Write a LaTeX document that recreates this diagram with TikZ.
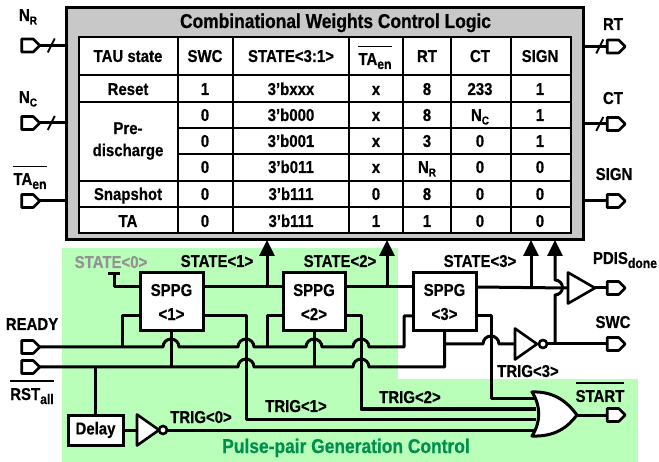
\documentclass[tikz,border=0pt]{standalone}
\usepackage{fontspec}
\setmainfont[FakeStretch=0.87, FakeBold=0.5]{Liberation Sans}
\usetikzlibrary{shapes.geometric, shapes.symbols, arrows.meta}
\definecolor{panelgreen}{HTML}{B9FFB9}
\definecolor{titlegreen}{HTML}{008F4C}
\definecolor{logicgray}{HTML}{C8C8C8}
\newcommand{\subtext}[1]{\raisebox{-3.5pt}{\fontsize{11.5}{12}\selectfont #1}}
\newcommand{\sublong}[1]{\raisebox{-4pt}{\fontsize{14}{14}\selectfont #1}}
\newcommand{\barred}[1]{\vbox{\hrule height 1.6pt \kern 6pt \hbox{#1}}}
\newcommand{\hop}{arc[start angle=180, end angle=0, radius=8pt]}

\begin{document}
\begin{tikzpicture}
[x=1pt, y=1pt,
every node/.style={inner sep=0pt, outer sep=0pt, font=\bfseries\fontsize{17.2}{18}\selectfont},
wire/.style={line width=3pt, line join=round, color=black},
gridline/.style={line width=2.8pt, color=black},
slash/.style={line width=1.8pt, color=black},
upwire/.style={wire, -{Triangle[length=16pt, width=15pt]}},
lbl/.style={anchor=base, align=center},
cell/.style={anchor=base},
port/.style={signal, signal to=east, signal from=nowhere, signal pointer angle=90, minimum width=18pt, minimum height=13pt, draw=black, fill=white, line width=2.6pt, line join=round},
blockbox/.style={rectangle, draw=black, fill=white, line width=3pt, align=center},
inverter/.style={isosceles triangle, isosceles triangle stretches, shape border rotate=0, anchor=lower side, minimum height=22pt, minimum width=31pt, draw=black, fill=white, line width=2.6pt, line join=round},
bubble/.style={circle, minimum size=8pt, draw=black, fill=white, line width=2.6pt}]
\useasboundingbox (0,0) rectangle (659,-462);
% green panels
\fill [panelgreen] (62,-248) rectangle (398,-379);
\fill [panelgreen] (62,-379) rectangle (638,-462);
% logic block and table
\node (logic) [rectangle, draw=black, fill=logicgray, line width=3pt, minimum width=517pt, minimum height=232pt] at (325,-124) {};
\node (title) [lbl, font=\bfseries\fontsize{20}{20}\selectfont] at (335.5,-28) {Combinational Weights Control Logic};
\node (tab) [rectangle, draw=black, fill=white, line width=2.8pt, minimum width=492pt, minimum height=196pt] at (325,-135) {};
\draw [gridline] (178,-37) -- (178,-233);
\draw [gridline] (233,-37) -- (233,-233);
\draw [gridline] (349,-37) -- (349,-233);
\draw [gridline] (403,-37) -- (403,-233);
\draw [gridline] (451,-37) -- (451,-233);
\draw [gridline] (511,-37) -- (511,-233);
\draw [gridline] (79,-75) -- (571,-75);
\draw [gridline] (79,-102) -- (571,-102);
\draw [gridline] (178,-128) -- (571,-128);
\draw [gridline] (178,-154) -- (571,-154);
\draw [gridline] (79,-181) -- (571,-181);
\draw [gridline] (79,-207) -- (571,-207);
% table header
\node (h1) [cell] at (128,-62) {TAU state};
\node (h2) [cell] at (205,-62) {SWC};
\node (h3) [cell] at (291,-62) {STATE<3:1>};
\node (h4) [cell] at (375,-65) {\barred{TA\sublong{en}}};
\node (h5) [cell] at (427,-62) {RT};
\node (h6) [cell] at (480,-62) {CT};
\node (h7) [cell] at (540,-62) {SIGN};
% table rows
\node (reset) [cell] at (128,-95) {Reset};
\node (a2) [cell] at (205,-95) {1};
\node (a3) [cell] at (291,-95) {3'bxxx};
\node (a4) [cell] at (376,-95) {x};
\node (a5) [cell] at (427,-95) {8};
\node (a6) [cell] at (480,-95) {233};
\node (a7) [cell] at (540,-95) {1};
\node (pre) [align=center] at (128,-141) {Pre-\\[4pt]discharge};
\node (b2) [cell] at (205,-121) {0};
\node (b3) [cell] at (291,-121) {3'b000};
\node (b4) [cell] at (376,-121) {x};
\node (b5) [cell] at (427,-121) {8};
\node (b6) [cell] at (480,-121) {N\subtext{C}};
\node (b7) [cell] at (540,-121) {1};
\node (c2) [cell] at (205,-147) {0};
\node (c3) [cell] at (291,-147) {3'b001};
\node (c4) [cell] at (376,-147) {x};
\node (c5) [cell] at (427,-147) {3};
\node (c6) [cell] at (480,-147) {0};
\node (c7) [cell] at (540,-147) {1};
\node (d2) [cell] at (205,-173) {0};
\node (d3) [cell] at (291,-173) {3'b011};
\node (d4) [cell] at (376,-173) {x};
\node (d5) [cell] at (427,-173) {N\subtext{R}};
\node (d6) [cell] at (480,-173) {0};
\node (d7) [cell] at (540,-173) {0};
\node (snap) [cell] at (128,-200) {Snapshot};
\node (e2) [cell] at (205,-200) {0};
\node (e3) [cell] at (291,-200) {3'b111};
\node (e4) [cell] at (376,-200) {0};
\node (e5) [cell] at (427,-200) {8};
\node (e6) [cell] at (480,-200) {0};
\node (e7) [cell] at (540,-200) {0};
\node (ta) [cell] at (128,-227) {TA};
\node (f2) [cell] at (205,-227) {0};
\node (f3) [cell] at (291,-227) {3'b111};
\node (f4) [cell] at (376,-227) {1};
\node (f5) [cell] at (427,-227) {1};
\node (f6) [cell] at (480,-227) {0};
\node (f7) [cell] at (540,-227) {0};
% ports
\node (pNR) [port] at (27.5,-45.5) {};
\node (pNC) [port] at (27.5,-123) {};
\node (pTA) [port] at (27.5,-201) {};
\node (pRDY) [port] at (27.5,-347) {};
\node (pRST) [port] at (27.5,-367) {};
\node (pRT) [port] at (613,-46.5) {};
\node (pCT) [port] at (613,-124) {};
\node (pSIGN) [port] at (613,-201) {};
\node (pPDIS) [port] at (613,-288) {};
\node (pSWC) [port] at (613,-344) {};
\node (pSTART) [port] at (613,-415) {};
% blocks
\node (sppg1) [blockbox, minimum width=63pt, minimum height=58pt] at (171.5,-302) {SPPG\\[6pt]<1>};
\node (sppg2) [blockbox, minimum width=62pt, minimum height=58pt] at (314,-302) {SPPG\\[6pt]<2>};
\node (sppg3) [blockbox, minimum width=63pt, minimum height=58pt] at (444.5,-302) {SPPG\\[6pt]<3>};
\node (delay) [blockbox, minimum width=55pt, minimum height=30pt] at (95.5,-430) {Delay};
\node (inv0) [inverter] at (137,-430) {};
\node (bub0) [bubble] at (163,-430) {};
\node (inv3) [inverter] at (515,-344) {};
\node (bub3) [bubble] at (543,-344) {};
\node (buf) [inverter, minimum height=27pt] at (568,-288) {};
\coordinate (orin3) at (536,-399);
\coordinate (orin2) at (536,-409);
\coordinate (orin1) at (536,-419);
\coordinate (orin0) at (536,-430);
\coordinate (ortip) at (577,-415);
% wires to the logic block
\draw [wire] (pNR.east) -- (pNR -| logic.west);
\draw [wire] (pNC.east) -- (pNC -| logic.west);
\draw [wire] (pTA.east) -- (pTA -| logic.west);
\draw [wire] (pRT -| logic.east) -- (pRT.west);
\draw [wire] (pCT -| logic.east) -- (pCT.west);
\draw [wire] (pSIGN -| logic.east) -- (pSIGN.west);
\draw [slash] ([xshift=8pt,yshift=-7pt]pNR.east) -- ([xshift=15pt,yshift=7pt]pNR.east);
\draw [slash] ([xshift=8pt,yshift=-7pt]pNC.east) -- ([xshift=15pt,yshift=7pt]pNC.east);
\draw [slash] ([xshift=-11pt,yshift=-7pt]pRT.west) -- ([xshift=-4pt,yshift=7pt]pRT.west);
\draw [slash] ([xshift=-11pt,yshift=-7pt]pCT.west) -- ([xshift=-4pt,yshift=7pt]pCT.west);
% state wires
\draw [wire] (114,-287) -- (sppg1.west |- 114,-287);
\draw [wire] (114,-274) -- (114,-287);
\draw [wire] (108,-274) -- (120,-274);
\draw [wire] ([yshift=15pt]sppg1.east) -- ([yshift=15pt]sppg2.west);
\draw [wire] ([yshift=15pt]sppg2.east) -- ([yshift=15pt]sppg3.west);
\draw [wire] ([yshift=15pt]sppg3.east) -- (buf.lower side);
\draw [upwire] (267,-287) -- (267,-287 |- logic.south);
\draw [upwire] (387,-287) -- (387,-287 |- logic.south);
\draw [upwire] (531,-287) -- (531,-287 |- logic.south);
\draw [upwire] (555,-344) -- (555,-295) arc[start angle=-90, end angle=90, radius=7.5pt] -- (555,-280 |- logic.south);
\draw [wire] (buf.east) -- (pPDIS.west);
% ready and reset lines
\draw [wire] (pRDY.east) -- (163,-347) \hop -- (238,-347) \hop -- (306,-347) \hop -- (353,-347) \hop -- (404,-347) -- (404,-316) -- (sppg3.west |- 404,-316);
\draw [wire] (122,-347) |- (sppg1.west |- 122,-316);
\draw [wire] (267,-347) |- (sppg2.west |- 267,-316);
\draw [wire] (pRST.east) -- (238,-367) \hop -- (353,-367) \hop -- (sppg3.south |- pRST) -- (sppg3.south);
\draw [wire] (sppg1.south) -- (sppg1.south |- pRST);
\draw [wire] (sppg2.south) -- (sppg2.south |- pRST);
\draw [wire] (delay.north |- pRST) -- (delay.north);
% trigger wires
\draw [wire] (delay.east) -- (inv0.lower side);
\draw [wire] (bub0.east) -- (orin0);
\draw [wire] (sppg1.east |- 203,-316) -| (246,-419) -- (orin1);
\draw [wire] (sppg2.east |- 345,-316) -| (361,-409) -- (orin2);
\draw [wire] (sppg3.east |- 476,-316) -| (491,-399) -- (orin3);
\draw [wire] (sppg3.south |- inv3) -- (483,-344) \hop -- (inv3.lower side);
\draw [wire] (bub3.east) -- (pSWC.west);
\draw [wire] (ortip) -- (pSTART.west);
% or gate
\draw [wire, fill=white] (532,-392) .. controls (555,-391) and (568,-403) .. (ortip) .. controls (568,-427) and (555,-437) .. (532,-436) .. controls (541,-422) and (541,-406) .. (532,-392) -- cycle;
% labels
\node (lNR) [lbl] at (28,-21) {N\subtext{R}};
\node (lNC) [lbl] at (28,-103) {N\subtext{C}};
\node (lTA) [lbl] at (30,-185) {\barred{TA\sublong{en}}};
\node (lRT) [lbl] at (613,-30) {RT};
\node (lCT) [lbl] at (613,-104) {CT};
\node (lSIGN) [lbl] at (614,-180) {SIGN};
\node (lRDY) [lbl] at (32,-330) {READY};
\node (lRST) [lbl] at (32,-400) {\barred{RST\sublong{all}}};
\node (lS0) [lbl, text=gray!85] at (111,-268) {STATE<0>};
\node (lS1) [lbl] at (217,-267) {STATE<1>};
\node (lS2) [lbl] at (340,-267) {STATE<2>};
\node (lS3) [lbl] at (480,-267) {STATE<3>};
\node (lPDIS) [lbl] at (625,-264) {PDIS\sublong{done}};
\node (lSWC) [lbl] at (613,-328) {SWC};
\node (lT0) [lbl] at (201,-423) {TRIG<0>};
\node (lT1) [lbl] at (296,-412) {TRIG<1>};
\node (lT2) [lbl] at (410,-403) {TRIG<2>};
\node (lT3) [lbl] at (528,-377) {TRIG<3>};
\node (lSTART) [lbl] at (600,-402) {\barred{START}};
\node (lpanel) [lbl, text=titlegreen, font=\bfseries\fontsize{20}{20}\selectfont] at (346,-453) {Pulse-pair Generation Control};
\end{tikzpicture}
\end{document}
